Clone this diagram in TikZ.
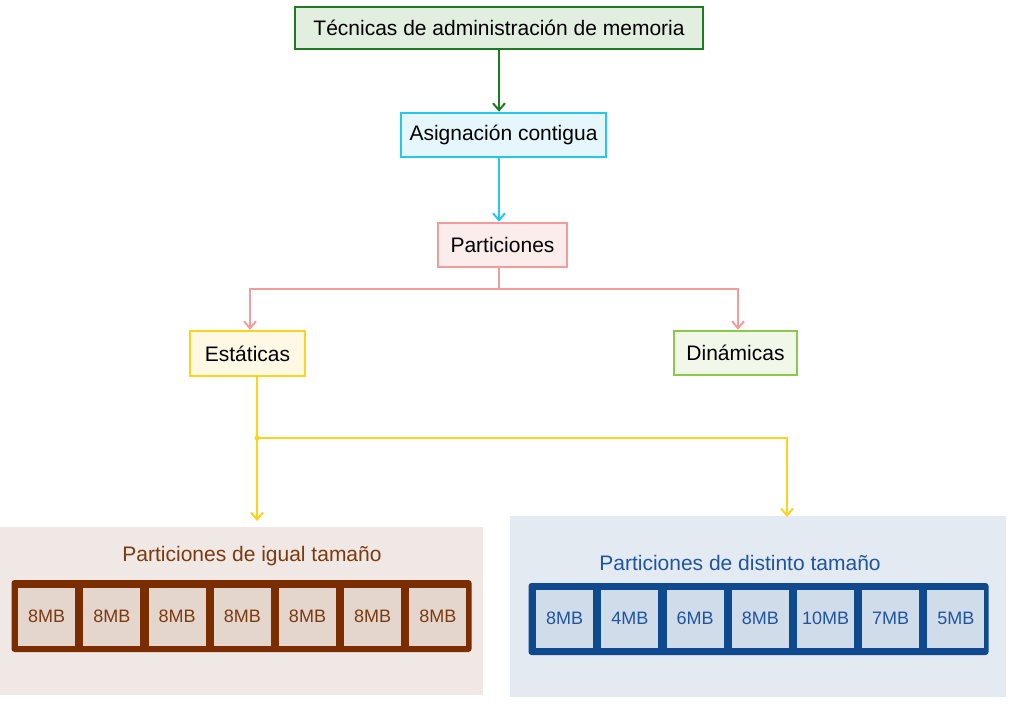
\documentclass[tikz,border=0pt]{standalone}
\usepackage{fontspec}
\setmainfont{Liberation Sans}
\usepackage{xcolor}
\usepackage{tikz}
\usetikzlibrary{arrows.meta,positioning}
\definecolor{memgreen}{HTML}{1E7B22}
\definecolor{memgreenbg}{HTML}{E2EFE0}
\definecolor{memcyan}{HTML}{22C8F0}
\definecolor{memcyanbg}{HTML}{E5F7FD}
\definecolor{mempink}{HTML}{F39C9C}
\definecolor{mempinkbg}{HTML}{FCEDED}
\definecolor{memyellow}{HTML}{FFD21E}
\definecolor{memyellowbg}{HTML}{FFF8E5}
\definecolor{memlime}{HTML}{8BC94A}
\definecolor{memlimebg}{HTML}{F1F8EA}
\definecolor{membrown}{HTML}{7A2E00}
\definecolor{membrowntxt}{HTML}{7B3A10}
\definecolor{membrownbg}{HTML}{F0E8E4}
\definecolor{membrowncell}{HTML}{E4D6CD}
\definecolor{memblue}{HTML}{0F4A8F}
\definecolor{membluetxt}{HTML}{1F55A0}
\definecolor{membluebg}{HTML}{E4EAF2}
\definecolor{membluecell}{HTML}{D0DCEA}

\begin{document}
\begin{tikzpicture}[x=1pt, y=-1pt,
    node distance=7.8pt,
    tbox/.style={rectangle, draw, line width=2.5pt, inner sep=0pt,
                 font=\fontsize{21}{25}\selectfont},
    arr/.style={-{Straight Barb[length=7pt,width=12pt]}, line width=2pt},
    panel/.style={rectangle, draw=none, anchor=north west, inner sep=0pt},
    bar/.style={rectangle, rounded corners=3pt, inner sep=0pt,
                minimum width=460pt, minimum height=72pt},
    cell/.style={rectangle, inner sep=0pt, minimum width=57pt,
                 minimum height=58pt, font=\fontsize{18}{21}\selectfont},
    lcell/.style={cell, fill=membrowncell, text=membrowntxt},
    rcell/.style={cell, fill=membluecell, text=membluetxt},
]
    \useasboundingbox (0,0) rectangle (1014,705);

    \node[tbox, draw=memgreen, fill=memgreenbg, minimum width=408pt,
          minimum height=42pt] (tecnicas) at (499,28)
          {Técnicas de administración de memoria};
    \node[tbox, draw=memcyan, fill=memcyanbg, minimum width=205pt,
          minimum height=44pt] (contigua) at (503.5,135) {Asignación contigua};
    \node[tbox, draw=mempink, fill=mempinkbg, minimum width=129pt,
          minimum height=44pt] (particiones) at (502.5,245) {Particiones};
    \node[tbox, draw=memyellow, fill=memyellowbg, minimum width=115pt,
          minimum height=45pt] (estaticas) at (247.5,353.5) {Estáticas};
    \node[tbox, draw=memlime, fill=memlimebg, minimum width=123pt,
          minimum height=44pt] (dinamicas) at (735.5,353) {Dinámicas};

    \draw[arr, memgreen] (tecnicas.south) -- (tecnicas.south |- contigua.north);
    \draw[arr, memcyan] (contigua.south -| tecnicas.south) -- (tecnicas.south |- particiones.north);
    \draw[arr, mempink] (particiones.south -| tecnicas.south) -- ++(0,21)
        -| ([xshift=2.5pt]estaticas.north);
    \draw[arr, mempink] (particiones.south -| tecnicas.south) -- ++(0,21)
        -| ([xshift=2.5pt]dinamicas.north);

    % panels
    \node[panel, fill=membrownbg, minimum width=483pt, minimum height=168pt]
        (igual) at (0,527) {};
    \node[panel, fill=membluebg, minimum width=496pt, minimum height=181pt]
        (distinto) at (510,516) {};
    \node[font=\fontsize{21}{25}\selectfont, text=membrowntxt] (igualtitle)
        at (252,556) {Particiones de igual tamaño};
    \node[font=\fontsize{21}{25}\selectfont, text=membluetxt] (distintotitle)
        at (740,563) {Particiones de distinto tamaño};

    \coordinate (ysplit) at (257,438);
    \coordinate (igualtop) at (257,521);
    \coordinate (distintotop) at (787,517);
    \draw[arr, memyellow] (estaticas.south -| ysplit) -- (igualtop);
    \draw[arr, memyellow] (ysplit) -| (distintotop);
    \fill[memyellow] (ysplit) circle (2.5pt);

    % equal partitions
    \node[bar, fill=membrown] (igualbar) at (241.5,616) {};
    \node[lcell, anchor=west] (l1) at (18,616.5) {8MB};
    \node[lcell, right=of l1] (l2) {8MB};
    \node[lcell, right=of l2] (l3) {8MB};
    \node[lcell, right=of l3] (l4) {8MB};
    \node[lcell, right=of l4] (l5) {8MB};
    \node[lcell, right=of l5] (l6) {8MB};
    \node[lcell, right=of l6] (l7) {8MB};

    % different partitions
    \node[bar, fill=memblue] (distintobar) at (758.5,619) {};
    \node[rcell, anchor=west] (r1) at (536,618.5) {8MB};
    \node[rcell, right=of r1] (r2) {4MB};
    \node[rcell, right=of r2] (r3) {6MB};
    \node[rcell, right=of r3] (r4) {8MB};
    \node[rcell, right=of r4] (r5) {10MB};
    \node[rcell, right=of r5] (r6) {7MB};
    \node[rcell, right=of r6] (r7) {5MB};
\end{tikzpicture}
\end{document}
